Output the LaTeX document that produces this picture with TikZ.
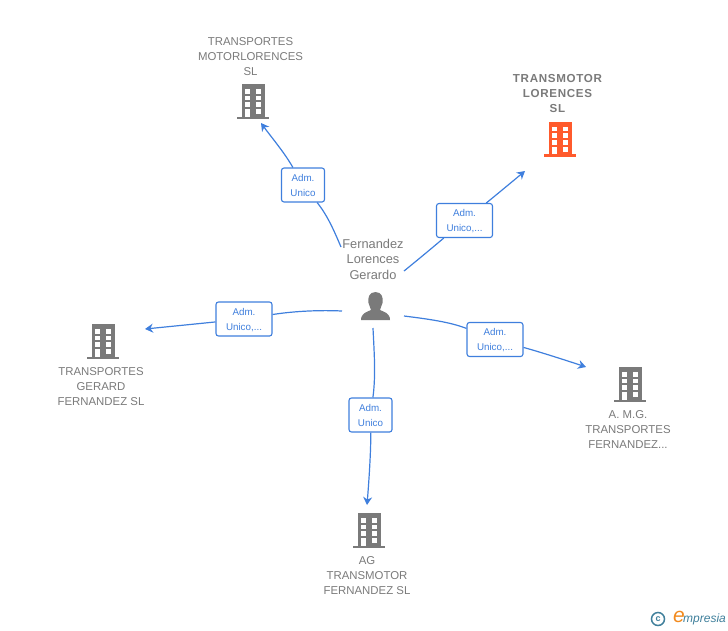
\documentclass[tikz,border=0pt]{standalone}
\usepackage{fontspec}
\setmainfont{Liberation Sans}
\newfontfamily\spacedbold[LetterSpace=6,BoldFont={Liberation Sans Bold}]{Liberation Sans}
\definecolor{linkblue}{HTML}{3F7FDD}
\definecolor{txtgray}{HTML}{7A7A7A}
\definecolor{iconorange}{HTML}{FF5A2C}
\definecolor{logoteal}{HTML}{3F7F9B}
\definecolor{logoorange}{HTML}{F28A1E}
\usetikzlibrary{arrows.meta}
\newcommand{\dotsuffix}{\smash{,...}}
\tikzset{
  conn/.style={draw=linkblue,line width=1.2pt},
  arr/.style={conn,-{Stealth[length=8pt,width=9pt]}},
  linklabel/.style={draw=linkblue,fill=white,rounded corners=2.5pt,line width=1.1pt,text=linkblue,font=\fontsize{9.8}{15}\selectfont,align=center,inner sep=0pt},
  nametext/.style={text=txtgray,font=\fontsize{11.4}{15}\selectfont,align=center,inner sep=0pt},
  pics/building/.style={code={
    \fill[#1] (-11.5,-18) rectangle (11.5,16);
    \fill[#1] (-16,14.6) rectangle (16,17);
    \foreach \bx in {-8.2,2.6}{\foreach \by in {-13,-6.3,0.3}{
      \fill[white] (\bx,\by) rectangle ++(5.6,4.7);}}
    \fill[white] (-8.2,7.4) rectangle ++(5.6,7.2);
    \fill[white] (2.6,7.4) rectangle ++(5.6,4.8);
  }}
}
\begin{document}
\begin{tikzpicture}[x=1pt,y=-1pt]
\useasboundingbox (0,0) rectangle (728,630);

% central person
\node[nametext,font=\fontsize{12.8}{15.5}\selectfont] (person) at (373,259) {Fernandez\\Lorences\\Gerardo};
\fill[txtgray] (375.5,292) .. controls (369,292) and (367.5,298) .. (368.5,303)
  .. controls (369,306) and (371,308) .. (371,310)
  .. controls (367,312) and (361,313) .. (361,320) -- (390,320)
  .. controls (390,313) and (384,312) .. (380,310)
  .. controls (380,308) and (382,306) .. (382.5,303)
  .. controls (383.5,298) and (382,292) .. (375.5,292) -- cycle;
\coordinate (personicon) at (375,306);

% companies
\node[nametext] (motor) at (250.5,56.5) {TRANSPORTES\\MOTORLORENCES\\SL};
\pic at (253,102) {building=txtgray};
\node[nametext,font=\fontsize{11.6}{15}\selectfont\spacedbold\bfseries] (transmotor) at (557.5,93.5) {TRANSMOTOR\\LORENCES\\SL};
\pic at (560,139.7) {building=iconorange};
\node[nametext] (gerard) at (101,386.5) {TRANSPORTES\\GERARD\\FERNANDEZ SL};
\pic at (103,342) {building=txtgray};
\node[nametext] (amg) at (628,429.5) {A. M.G.\\TRANSPORTES\\FERNANDEZ...};
\pic at (630,385) {building=txtgray};
\node[nametext] (ag) at (367,575.5) {AG\\TRANSMOTOR\\FERNANDEZ SL};
\pic at (369,531) {building=txtgray};

% link labels
\node[linklabel,minimum width=43pt,minimum height=34pt] (l1) at (303,185) {Adm.\\Unico};
\node[linklabel,minimum width=56pt,minimum height=34pt] (l2) at (464.5,220.5) {Adm.\\Unico\dotsuffix};
\node[linklabel,minimum width=56pt,minimum height=34pt] (l3) at (244,319) {Adm.\\Unico\dotsuffix};
\node[linklabel,minimum width=56pt,minimum height=34pt] (l4) at (495,339.5) {Adm.\\Unico\dotsuffix};
\node[linklabel,minimum width=43pt,minimum height=34pt] (l5) at (370.5,415) {Adm.\\Unico};

% free ends
\coordinate (s1) at (341,247);
\coordinate (e1) at (261,123);
\coordinate (s2) at (404,271);
\coordinate (e2) at (525,171);
\coordinate (s3) at (342,311);
\coordinate (e3) at (145,329);
\coordinate (s4) at (404,316);
\coordinate (e4) at (586,367);
\coordinate (s5) at (373,328);
\coordinate (e5) at (367,505);

% connectors
\draw[conn] (s1) .. controls (335,233) and (328,216) .. (l1);
\draw[arr] (l1) .. controls (284,152) and (272,138) .. (e1);
\draw[conn] (s2) .. controls (420,258) and (432,248) .. (l2);
\draw[arr] (l2) .. controls (490,200) and (507,186) .. (e2);
\draw[conn] (s3) .. controls (320,310) and (295,311) .. (l3);
\draw[arr] (l3) .. controls (205,323) and (175,326) .. (e3);
\draw[conn] (s4) .. controls (428,319) and (450,322) .. (l4);
\draw[arr] (l4) .. controls (540,352) and (565,360) .. (e4);
\draw[conn] (s5) .. controls (374,350) and (376,375) .. (l5);
\draw[arr] (l5) .. controls (371,450) and (369,480) .. (e5);

% logo
\node[circle,draw=logoteal,line width=1.5pt,minimum size=13pt,inner sep=0pt,text=logoteal,font=\fontsize{9}{9}\selectfont\bfseries] (copy) at (658,619) {c};
\node[anchor=west,inner sep=0pt,font=\fontsize{12}{12}\selectfont\itshape,text=logoteal] (brand) at (683,619.5) {mpresia};
\node[anchor=east,inner sep=0pt,font=\fontsize{21}{21}\selectfont\itshape,text=logoorange] (brande) at (685,617) {e};
\end{tikzpicture}
\end{document}
